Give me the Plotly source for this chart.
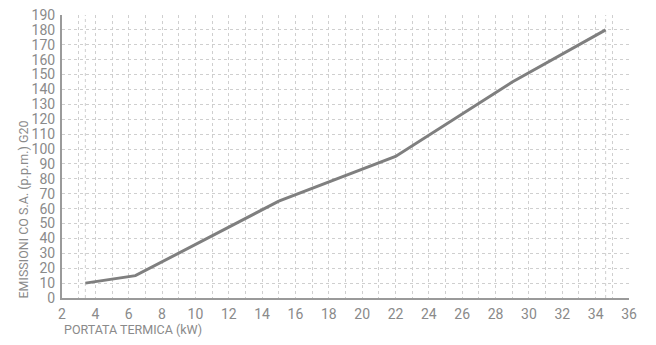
import plotly.graph_objects as go

portata_kw = [3.4, 6.4, 15, 22, 29, 34.6]
emissioni_ppm = [10, 15, 65, 95, 145, 180]
x_ticks = list(range(2, 37, 2))
y_ticks = list(range(0, 191, 10))

grey = "#8a8a8a"
font = "Roboto"

fig = go.Figure()
fig.add_trace(go.Scatter(x=portata_kw, y=emissioni_ppm, mode="lines",
                         line=dict(color="#7f7f7f", width=3), hoverinfo="skip"))

# extra dotted vertical lines at first/last data point
for xv in (portata_kw[0], portata_kw[-1]):
    fig.add_shape(type="line", x0=xv, x1=xv, y0=0, y1=190, xref="x", yref="y",
                  line=dict(color="#cfcfcf", width=1, dash="dot"), layer="below")

fig.update_layout(
    width=648, height=337,
    margin=dict(l=54, r=27, t=7, b=47, autoexpand=False),
    paper_bgcolor="white", plot_bgcolor="white",
    showlegend=False,
    font=dict(family=font, color=grey, size=13),
    xaxis=dict(range=[2, 36], tickvals=x_ticks, ticks="", showline=True,
               linecolor="#9a9a9a", linewidth=2, showgrid=True, gridcolor="#cfcfcf",
               griddash="dot", gridwidth=1, zeroline=False, automargin=False,
               minor=dict(dtick=1, showgrid=True, gridcolor="#cfcfcf", griddash="dot", gridwidth=1),
               tickfont=dict(size=14, color=grey), ticklabelstandoff=2,
               ticklabeloverflow="allow"),
    yaxis=dict(range=[0, 190], tickvals=y_ticks, ticks="", showline=True,
               linecolor="#9a9a9a", linewidth=2, showgrid=True, gridcolor="#cfcfcf",
               griddash="dot", gridwidth=1, zeroline=False, automargin=False,
               tickfont=dict(size=14, color=grey), ticklabelstandoff=2,
               ticklabeloverflow="allow"),
    annotations=[
        dict(text="PORTATA TERMICA (kW)", xref="paper", yref="paper", x=0, y=0,
             xanchor="left", yanchor="top", yshift=-22, showarrow=False,
             font=dict(size=12.5, color=grey, family=font)),
        dict(text="EMISSIONI CO S.A. (p.p.m.) G20", xref="paper", yref="paper", x=0, y=0,
             xanchor="right", yanchor="bottom", xshift=-30, yshift=-3, textangle=-90,
             showarrow=False, font=dict(size=12.5, color=grey, family=font)),
    ],
)

fig.write_html("out.html")
